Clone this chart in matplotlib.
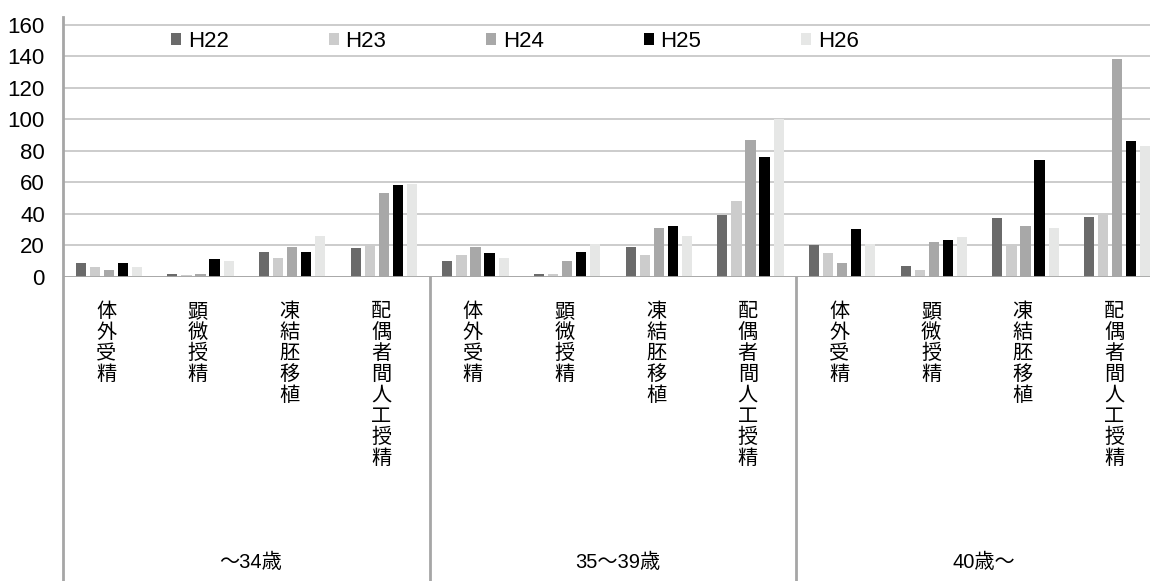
import numpy as np
import matplotlib
matplotlib.use("Agg")
import matplotlib.pyplot as plt
from matplotlib import transforms

plt.rcParams["font.family"] = ["Liberation Sans", "Noto Sans CJK JP", "DejaVu Sans"]

# data
age_groups = ["～34歳", "35～39歳", "40歳～"]
treatments = ["体外受精", "顕微授精", "凍結胚移植", "配偶者間人工授精"]
years = ["H22", "H23", "H24", "H25", "H26"]

h22 = [9, 2, 16, 18, 10, 2, 19, 39, 20, 7, 37, 38]
h23 = [6, 1, 12, 21, 14, 2, 14, 48, 15, 4, 20, 40]
h24 = [4, 2, 19, 53, 19, 10, 31, 87, 9, 22, 32, 138]
h25 = [9, 11, 16, 58, 15, 16, 32, 76, 30, 23, 74, 86]
h26 = [6, 10, 26, 59, 12, 21, 26, 100, 21, 25, 31, 83]

series = [h22, h23, h24, h25, h26]
colors = ["#6a6a6a", "#cccccc", "#a8a8a8", "#000000", "#e6e7e6"]

W, H = 1150, 581
fig = plt.figure(figsize=(W / 100, H / 100), dpi=100)

# plot area (right edge is clipped like in the reference)
x0, x1 = 63, 1163
y_base, y_top = 276.7, 20.0
ax = fig.add_axes([x0 / W, (H - y_base) / H, (x1 - x0) / W, (y_base - y_top) / H])

n_cat = len(age_groups) * len(treatments)
x = np.arange(n_cat)
step = 0.153
bw = 0.11
for i, (vals, col, lab) in enumerate(zip(series, colors, years)):
    ax.bar(x + (i - 2) * step, vals, width=bw, color=col, label=lab, zorder=3)

ax.set_xlim(-0.5, n_cat - 0.5)
ax.set_ylim(0, 163)
ax.set_yticks(np.arange(0, 161, 20))
ax.tick_params(axis="y", length=0, pad=13, labelsize=16)
ax.set_xticks([])
ax.yaxis.grid(True, color="#c4c4c4", linewidth=1.2, zorder=0)
ax.set_axisbelow(True)
for s in ax.spines.values():
    s.set_visible(False)
ax.axhline(0, color="#a6a6a6", linewidth=2, zorder=4)

leg_y = (y_base - 41.7) / (y_base - y_top)
leg = ax.legend(loc="center left", bbox_to_anchor=((171 - x0) / (x1 - x0), leg_y), ncol=5,
                frameon=False, fontsize=16, handlelength=0.45, handleheight=0.45,
                handletextpad=0.3, columnspacing=4.5, borderaxespad=0, borderpad=0)

# left axis line and group separators run down to the bottom of the figure
trans = transforms.blended_transform_factory(ax.transData, fig.transFigure)
ax.plot([-0.5, -0.5], [0, (H - 17) / H], transform=trans, color="#a6a6a6",
        linewidth=2, clip_on=False, zorder=5)
for g in range(1, len(age_groups)):
    xs = g * len(treatments) - 0.5
    ax.plot([xs, xs], [0, (H - y_base) / H], transform=trans, color="#a6a6a6",
            linewidth=2, clip_on=False, zorder=5)

# vertical category labels
for gi, grp in enumerate(age_groups):
    for ti, tr in enumerate(treatments):
        xc = gi * len(treatments) + ti
        ax.text(xc - 0.03, (H - 301) / H, "\n".join(tr), transform=trans, ha="center", va="top",
                fontsize=14.5, family=["Noto Sans CJK JP"], linespacing=1.0, clip_on=False)
    xg = gi * len(treatments) + 1.5
    ax.text(xg + 0.05, (H - 562) / H, grp, transform=trans, ha="center", va="center",
            fontsize=14.5, family=["Liberation Sans", "Noto Sans CJK JP"], clip_on=False)

fig.savefig("out.png", dpi=100)
